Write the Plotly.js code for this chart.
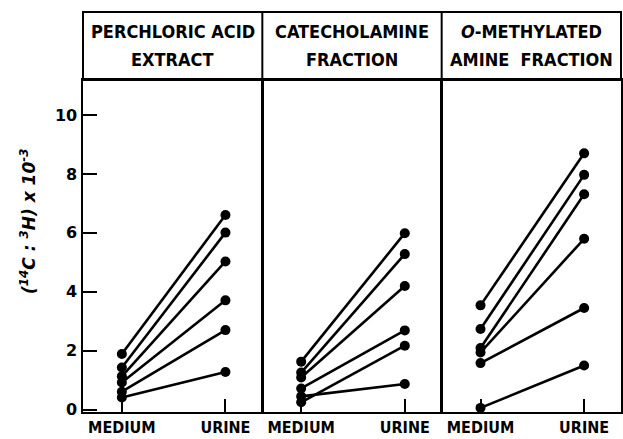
<!DOCTYPE html>
<html>
<head>
<meta charset="utf-8">
<script src="https://cdn.plot.ly/plotly-3.0.1.min.js"></script>
<style>html,body{margin:0;padding:0;background:#fff;}#chart{width:623px;height:439px;}</style>
</head>
<body>
<div id="chart"></div>
<script>
const categories = ["MEDIUM", "URINE"];
const panelTitleLine1 = ["PERCHLORIC ACID", "CATECHOLAMINE", "<i>O</i>-METHYLATED"];
const panelTitleLine2 = ["EXTRACT", "FRACTION", "AMINE  FRACTION"];
const perchloricMedium = [1.89, 1.43, 1.13, 0.92, 0.61, 0.41];
const perchloricUrine  = [6.61, 6.01, 5.03, 3.71, 2.70, 1.28];
const catecholMedium   = [1.63, 1.26, 1.09, 0.72, 0.25, 0.45];
const catecholUrine    = [5.99, 5.28, 4.20, 2.69, 2.17, 0.87];
const omethylMedium    = [3.54, 2.74, 2.09, 1.94, 1.58, 0.06];
const omethylUrine     = [8.70, 7.97, 7.31, 5.80, 3.45, 1.50];
const yTickVals = [0, 2, 4, 6, 8, 10];
const yTickText = ["0", "2", "4", "6", "8", "10"];

const panels = [
  {medium: perchloricMedium, urine: perchloricUrine},
  {medium: catecholMedium, urine: catecholUrine},
  {medium: omethylMedium, urine: omethylUrine}
];

const labelFont = "Liberation Sans Narrow, DejaVu Sans Condensed, Arial Narrow, sans-serif";
const xIdx = categories.map((c, i) => i);
const traces = [];
panels.forEach((p, k) => {
  const ax = k === 0 ? "" : String(k + 1);
  p.medium.forEach((m, i) => {
    traces.push({
      type: "scatter", mode: "lines+markers",
      x: xIdx, y: [m, p.urine[i]],
      xaxis: "x" + ax, yaxis: "y" + ax,
      line: {color: "#000", width: 2.6},
      marker: {color: "#000", size: 10},
      showlegend: false, hoverinfo: "skip"
    });
  });
});

const layout = {
  width: 623, height: 439,
  margin: {l: 83, r: 2, t: 80, b: 27},
  paper_bgcolor: "#fff", plot_bgcolor: "#fff",
  showlegend: false,
  shapes: [], annotations: []
};
const yRange = [-0.08, 11.19];
for (let k = 0; k < 3; k++) {
  const ax = k === 0 ? "" : String(k + 1);
  layout["xaxis" + ax] = {
    domain: [k / 3, (k + 1) / 3], anchor: "y" + ax,
    range: [-0.375, 1.356], tickvals: xIdx, ticktext: categories,
    ticks: "inside", ticklen: 13, tickwidth: 2, tickcolor: "#000",
    showline: true, mirror: true, linecolor: "#000", linewidth: 1.6,
    showgrid: false, zeroline: false, fixedrange: true,
    ticklabelstandoff: 0,
    tickfont: {family: labelFont, size: 16, color: "#000", weight: "bold"}
  };
  layout["yaxis" + ax] = {
    domain: [0, 1], anchor: "x" + ax, range: yRange,
    tickvals: yTickVals, ticktext: yTickText,
    ticks: k === 0 ? "inside" : "", ticklen: 14, tickwidth: 2, tickcolor: "#000",
    showticklabels: k === 0, ticklabelstandoff: 1,
    showline: true, mirror: true, linecolor: "#000", linewidth: 1.6,
    showgrid: false, zeroline: false, fixedrange: true,
    tickfont: {family: "DejaVu Sans, sans-serif", size: 16, color: "#000", weight: "bold"}
  };
}
// header box
const plotH = 439 - 80 - 27;
const headerTop = (439 - 27 - 12) / plotH;
layout.shapes.push({type: "rect", xref: "paper", yref: "paper", x0: 0, x1: 1, y0: 1, y1: headerTop,
  line: {color: "#000", width: 2}});
[1 / 3, 2 / 3].forEach(xp => layout.shapes.push({type: "line", xref: "paper", yref: "paper",
  x0: xp, x1: xp, y0: 1, y1: headerTop, line: {color: "#000", width: 2}}));
const py = y => (439 - 27 - y) / plotH;
for (let k = 0; k < 3; k++) {
  layout.annotations.push({xref: "paper", yref: "paper", x: (k + 0.5) / 3, y: py(32),
    text: panelTitleLine1[k], showarrow: false, xanchor: "center", yanchor: "middle",
    font: {family: labelFont, size: 18, color: "#000", weight: "bold"}});
  layout.annotations.push({xref: "paper", yref: "paper", x: (k + 0.5) / 3, y: py(60),
    text: panelTitleLine2[k], showarrow: false, xanchor: "center", yanchor: "middle",
    font: {family: labelFont, size: 18, color: "#000", weight: "bold"}});
}
// y axis title
layout.annotations.push({xref: "paper", yref: "paper", x: (28 - 83) / 538, y: py(222),
  xanchor: "center", yanchor: "middle", textangle: -90, showarrow: false,
  text: "<i>(<sup>14</sup>C : <sup>3</sup>H) x 10<sup>-3</sup></i>",
  font: {family: "DejaVu Sans, sans-serif", size: 17, color: "#000", weight: "bold"}});

Plotly.newPlot("chart", traces, layout, {staticPlot: true, displayModeBar: false});
</script>
</body>
</html>
